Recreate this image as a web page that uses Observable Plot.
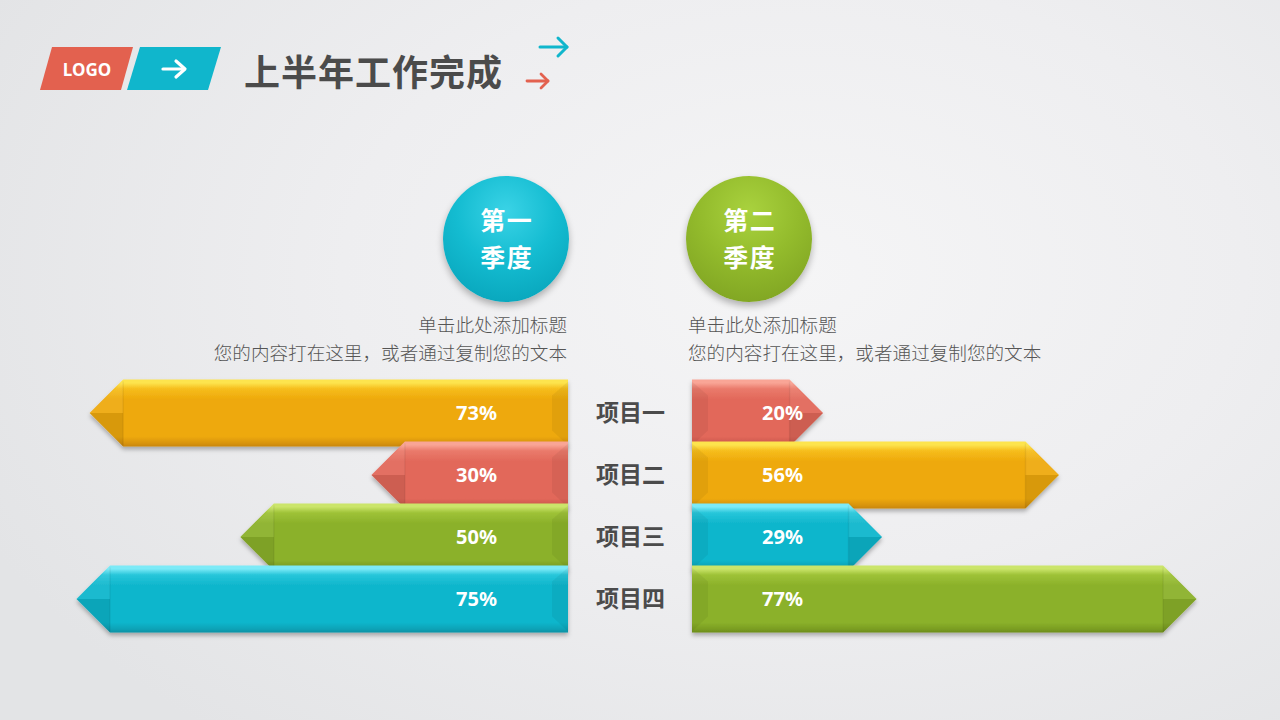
<!DOCTYPE html>
<html>
<head>
<meta charset="utf-8">
<script src="https://cdn.jsdelivr.net/npm/d3@7"></script>
<script src="https://cdn.jsdelivr.net/npm/@observablehq/plot@0.6"></script>
<style>
  html, body { margin: 0; padding: 0; }
  body {
    width: 1280px; height: 720px; position: relative; overflow: hidden;
    background: radial-gradient(ellipse 900px 600px at 62% 38%, #f5f5f6 0%, #eeeef0 50%, #e3e4e6 100%);
    font-family: "Noto Sans CJK SC", "Noto Sans", sans-serif;
  }
  .abs { position: absolute; }
  #title { left: 244px; top: 45px; font-size: 36px; font-weight: 700; color: #4b4b4b; line-height: 50px; letter-spacing: 1px; }
  .circle { width: 126px; height: 126px; border-radius: 50%; color: #fff; font-weight: 700;
    font-size: 25px; letter-spacing: 1.5px; text-align: center; box-shadow: 0 4px 7px rgba(0,0,0,0.28); }
  .circle .l1, .circle .l2 { position: absolute; left: 0; width: 126px; height: 37px; line-height: 37px; text-indent: 1.5px; }
  .circle .l1 { top: 25px; }
  .circle .l2 { top: 62px; }
  #c1 { left: 443px; top: 176px; background: radial-gradient(circle at 50% 28%, #3ad3e6 0%, #14bcd1 45%, #0aa9bf 80%, #0a97ab 100%); }
  #c2 { left: 686px; top: 176px; background: radial-gradient(circle at 50% 28%, #a9d23e 0%, #93bb2c 45%, #83a824 80%, #6f9218 100%); }
  .desc { font-size: 18.6px; color: #555; line-height: 28px; font-weight: 300; white-space: nowrap; }
  #d1 { right: 713px; top: 310px; text-align: right; }
  #d2 { left: 688px; top: 310px; text-align: left; }
  #left { left: 0px; top: 370px; }
  #right { left: 568px; top: 370px; }
</style>
</head>
<body>
<svg class="abs" style="left:0;top:0" width="600" height="110">
  <polygon points="52,47 133,47 121,90 40,90" fill="#e3614f"/>
  <text x="87" y="76" text-anchor="middle" fill="#fff" font-family="Noto Sans, sans-serif" font-weight="700" font-size="17">LOGO</text>
  <polygon points="140,47 221,47 208,90 127,90" fill="#10b6cc"/>
  <g stroke="#fff" stroke-width="3.2" fill="none" stroke-linecap="round" stroke-linejoin="round">
    <line x1="163" y1="69" x2="184" y2="69"/>
    <polyline points="176,61 185,69 176,77"/>
  </g>
  <g stroke="#10b6cc" stroke-width="3" fill="none" stroke-linecap="round" stroke-linejoin="round">
    <line x1="540" y1="47" x2="567" y2="47"/>
    <polyline points="558,38 567,47 558,56"/>
  </g>
  <g stroke="#e3614f" stroke-width="2.8" fill="none" stroke-linecap="round" stroke-linejoin="round">
    <line x1="527" y1="81" x2="548" y2="81"/>
    <polyline points="541,74 548,81 541,88"/>
  </g>
</svg>
<div id="title" class="abs">上半年工作完成</div>
<div id="c1" class="abs circle"><div class="l1">第一</div><div class="l2">季度</div></div>
<div id="c2" class="abs circle"><div class="l1">第二</div><div class="l2">季度</div></div>
<div id="d1" class="abs desc">单击此处添加标题<br>您的内容打在这里，或者通过复制您的文本</div>
<div id="d2" class="abs desc">单击此处添加标题<br>您的内容打在这里，或者通过复制您的文本</div>
<div id="left" class="abs"></div>
<div id="right" class="abs"></div>
<script>
// ---- data ----
const categories = ["项目一", "项目二", "项目三", "项目四"];
const q1Values = [73, 30, 50, 75];
const q2Values = [20, 56, 29, 77];
const q1Colors = ["orange", "red", "green", "cyan"];
const q2Colors = ["red", "orange", "cyan", "green"];

const palette = {
  orange: {light: "#fde44e", hi: "#f6bd1c", base: "#eea90b", dark: "#d8940a", edge: "#c9860a"},
  red:    {light: "#f9a596", hi: "#ea7a6b", base: "#e2685a", dark: "#cf5a4d", edge: "#bf5044"},
  green:  {light: "#cbe56a", hi: "#9ec237", base: "#8bb12a", dark: "#7a9d22", edge: "#6c8c1c"},
  cyan:   {light: "#7ceaf7", hi: "#27c6da", base: "#0fb6cc", dark: "#0ca2b6", edge: "#0a91a4"}
};

function arrowBars(values, keys, prefix) {
  return (index, scales, channels, dims) => {
    const g = d3.create("svg:g");
    const defs = g.append("defs");
    const f = defs.append("filter").attr("id", prefix + "sh")
      .attr("x", "-10%").attr("y", "-20%").attr("width", "120%").attr("height", "150%");
    f.append("feDropShadow").attr("dx", 0).attr("dy", 3).attr("stdDeviation", 2.2)
      .attr("flood-color", "#000").attr("flood-opacity", 0.28);
    for (const k of Object.keys(palette)) {
      const p = palette[k];
      const lg = defs.append("linearGradient").attr("id", prefix + k)
        .attr("x1", 0).attr("y1", 0).attr("x2", 0).attr("y2", 1);
      [[0, p.light], [0.05, p.light], [0.14, p.hi], [0.3, p.base], [0.85, p.base], [0.95, p.dark], [1, p.edge]]
        .forEach(([o, c]) => lg.append("stop").attr("offset", o).attr("stop-color", c));
    }
    const step = scales.y(categories[1]) - scales.y(categories[0]);
    const bw = scales.y.bandwidth ? scales.y.bandwidth() : step;
    const H = step + 5;
    const h = H / 2;
    const line = d3.line();
    values.forEach((v, i) => {
      const cy = scales.y(categories[i]) + bw / 2;
      const y0 = cy - H / 2, y1 = cy + H / 2;
      const x0 = scales.x(0), xt = scales.x(v);
      const s = Math.sign(xt - x0);
      const xn = xt - s * h;
      const bar = g.append("g");
      bar.append("path")
        .attr("d", line([[x0, y0], [xn, y0], [xt, cy], [xn, y1], [x0, y1]]) + "Z")
        .attr("fill", `url(#${prefix}${keys[i]})`)
        .attr("filter", `url(#${prefix}sh)`);
      bar.append("path").attr("d", line([[xn, cy], [xt, cy], [xn, y1]]) + "Z")
        .attr("fill", "#000").attr("fill-opacity", 0.09);
      bar.append("path").attr("d", line([[xn, y0 + 2], [xt, cy], [xn, cy]]) + "Z")
        .attr("fill", "#fff").attr("fill-opacity", 0.06);
      bar.append("line").attr("x1", xn).attr("x2", xn).attr("y1", y0 + 2).attr("y2", y1 - 1)
        .attr("stroke", "#000").attr("stroke-opacity", 0.06).attr("stroke-width", 1.5);
      bar.append("path").attr("d", line([[x0, y0 + 2], [x0 + s * 16, y0 + 16], [x0 + s * 16, y1 - 16], [x0, y1 - 1]]) + "Z")
        .attr("fill", "#000").attr("fill-opacity", 0.05);
    });
    return g.node();
  };
}

const common = {
  height: 275,
  marginTop: 12,
  marginBottom: 15,
  y: {type: "band", domain: categories, padding: 0, axis: null},
  style: {background: "transparent", overflow: "visible"}
};

const rowsL = categories.map((c, i) => ({cat: c, v: q1Values[i]}));
const rowsR = categories.map((c, i) => ({cat: c, v: q2Values[i]}));

const leftPlot = Plot.plot({
  ...common,
  width: 568,
  marginLeft: 11,
  marginRight: 0,
  x: {domain: [0, 85], reverse: true, axis: null},
  marks: [
    arrowBars(q1Values, q1Colors, "L"),
    Plot.text(rowsL, {y: "cat", text: d => d.v + "%", frameAnchor: "right", dx: -92, textAnchor: "middle",
      fill: "#fff", fontSize: 20, fontWeight: 700, fontFamily: "Noto Sans, sans-serif"})
  ]
});

const rightPlot = Plot.plot({
  ...common,
  width: 712,
  marginLeft: 124,
  marginRight: 31,
  x: {domain: [0, 85], axis: null},
  marks: [
    arrowBars(q2Values, q2Colors, "R"),
    Plot.text(rowsR, {y: "cat", text: d => d.v + "%", frameAnchor: "left", dx: 90, textAnchor: "middle",
      fill: "#fff", fontSize: 20, fontWeight: 700, fontFamily: "Noto Sans, sans-serif"}),
    Plot.text(rowsR, {y: "cat", text: "cat", frameAnchor: "left", dx: -62, textAnchor: "middle",
      fill: "#4b4b4b", fontSize: 23, fontWeight: 700, fontFamily: "Noto Sans CJK SC, sans-serif"})
  ]
});

document.getElementById("left").appendChild(leftPlot);
document.getElementById("right").appendChild(rightPlot);
</script>
</body>
</html>
